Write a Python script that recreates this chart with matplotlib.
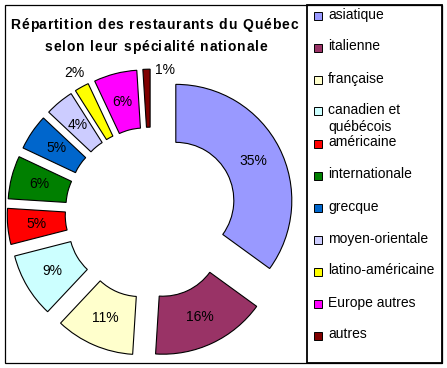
import matplotlib
matplotlib.use('Agg')
import matplotlib.pyplot as plt
from matplotlib.patches import Rectangle
import numpy as np

plt.rcParams['font.family'] = ['Liberation Sans', 'DejaVu Sans']

# données
categories = ['asiatique', 'italienne', 'française', 'canadien et\nquébécois',
              'américaine', 'internationale', 'grecque', 'moyen-orientale',
              'latino-américaine', 'Europe autres', 'autres']
values = [35, 16, 11, 9, 5, 6, 5, 4, 2, 6, 1]
colors = ['#9999FF', '#993366', '#FFFFCC', '#CCFFFF', '#FF0000', '#007F00',
          '#0066CC', '#CCCCFF', '#FFFF00', '#FF00FF', '#800000']
title_lines = ['Répartition des restaurants du Québec',
               'selon leur spécialité nationale']

W, H = 447, 368
fig = plt.figure(figsize=(W / 100, H / 100), dpi=100)

# axes en "pixels" : centre du donut et rayon
cx, cy, R = 151, 213, 116
ax = fig.add_axes([0, 0, 1, 1])
wedges, texts, autotexts = ax.pie(
    values, colors=colors, startangle=90, counterclock=False,
    explode=[0.24] * len(values), radius=1.0,
    wedgeprops=dict(width=0.5, edgecolor='black', linewidth=0.8),
    autopct='%.0f%%', pctdistance=0.75,
    textprops=dict(fontsize=10, color='black'))
ax.set_xlim(-cx / R, (W - cx) / R)
ax.set_ylim(-(H - cy) / R, cy / R)
ax.set_aspect('auto')
ax.axis('off')

# petites étiquettes placées hors de l'anneau
def place(t, ang_deg, dist):
    a = np.radians(90 - ang_deg)
    t.set_position((dist * np.cos(a), dist * np.sin(a)))

place(autotexts[8], 331.2, 1.38)
place(autotexts[10], 5.6, 1.24)

# titre avec espacement des lettres (comme Excel)
rend = fig.canvas.get_renderer()

def advance(ch, **kw):
    t1 = fig.text(0, 0, 'l' + ch + 'l', **kw)
    t2 = fig.text(0, 0, 'll', **kw)
    w = t1.get_window_extent(rend).width - t2.get_window_extent(rend).width
    t1.remove()
    t2.remove()
    return w

def spaced_text(xc, y, s, extra, **kw):
    advs = [advance(c, **kw) for c in s]
    x = xc - (sum(advs) + extra * (len(s) - 1)) / 2
    for c, a in zip(s, advs):
        if c != ' ':
            fig.text(x / W, 1 - y / H, c, ha='left', va='baseline', **kw)
        x += a + extra

tkw = dict(fontsize=10, fontweight='bold')
spaced_text(154, 29, title_lines[0], 0.85, **tkw)
spaced_text(156, 51, title_lines[1], 0.85, **tkw)

# cadre extérieur et séparation de la légende
fig.patches.append(Rectangle((5 / W, 1 - 363 / H), 437 / W, 358 / H,
                             transform=fig.transFigure, fill=False,
                             edgecolor='black', linewidth=0.9))
fig.patches.append(Rectangle((307 / W, 1 - 363 / H), 135 / W, 358 / H,
                             transform=fig.transFigure, fill=False,
                             edgecolor='black', linewidth=1.3))

# légende
y0, step = 15.5, 32
for i, (lab, col) in enumerate(zip(categories, colors)):
    y = y0 + i * step
    fig.patches.append(Rectangle((314 / W, 1 - (y + 4) / H), 8 / W, 8 / H,
                                 transform=fig.transFigure, facecolor=col,
                                 edgecolor='black', linewidth=0.7))
    fig.text(328 / W, 1 - (y - 8) / H, lab, ha='left', va='top',
             fontsize=10, linespacing=1.25)

fig.savefig('out.png', dpi=100)
